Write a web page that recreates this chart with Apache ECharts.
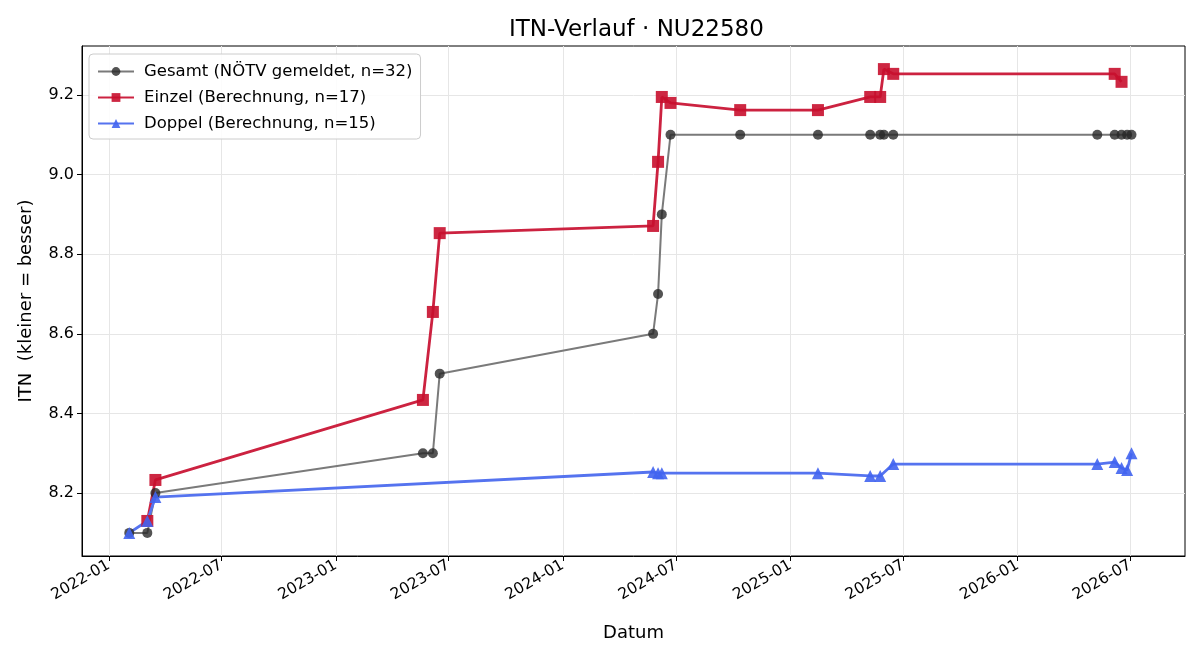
<!DOCTYPE html>
<html>
<head>
<meta charset="utf-8">
<script src="https://cdn.jsdelivr.net/npm/echarts@6/dist/echarts.min.js"></script>
<style>
  html, body { margin: 0; padding: 0; background: #fff; }
  #chart { width: 1200px; height: 660px; }
</style>
</head>
<body>
<div id="chart"></div>
<script>
// Gesamt (gemeldet)
const gesamtDates = [
  "2022-02-03", "2022-03-04", "2022-03-17",
  "2023-05-21", "2023-06-06", "2023-06-17",
  "2024-05-25", "2024-06-02", "2024-06-08", "2024-06-22", "2024-10-12",
  "2025-02-14", "2025-05-09", "2025-05-25", "2025-05-31", "2025-06-15",
  "2026-05-09", "2026-06-06", "2026-06-17", "2026-06-26", "2026-07-03"
];
const gesamtValues = [
  8.1, 8.1, 8.2,
  8.3, 8.3, 8.5,
  8.6, 8.7, 8.9, 9.1, 9.1,
  9.1, 9.1, 9.1, 9.1, 9.1,
  9.1, 9.1, 9.1, 9.1, 9.1
];

// Einzel (Berechnung)
const einzelDates = [
  "2022-03-04", "2022-03-17",
  "2023-05-21", "2023-06-06", "2023-06-17",
  "2024-05-25", "2024-06-02", "2024-06-08", "2024-06-22",
  "2024-10-12", "2025-02-14",
  "2025-05-09", "2025-05-25", "2025-05-31", "2025-06-15",
  "2026-06-06", "2026-06-17"
];
const einzelValues = [
  8.13, 8.233,
  8.434, 8.655, 8.853,
  8.871, 9.032, 9.195, 9.18,
  9.162, 9.162,
  9.195, 9.195, 9.265, 9.253,
  9.253, 9.233
];

// Doppel (Berechnung)
const doppelDates = [
  "2022-02-03", "2022-03-04", "2022-03-17",
  "2024-05-25", "2024-06-02", "2024-06-08",
  "2025-02-14",
  "2025-05-09", "2025-05-25", "2025-06-15",
  "2026-05-09", "2026-06-06", "2026-06-17", "2026-06-26", "2026-07-03"
];
const doppelValues = [
  8.1, 8.13, 8.19,
  8.253, 8.25, 8.25,
  8.25,
  8.243, 8.243, 8.273,
  8.273, 8.278, 8.263, 8.258, 8.30
];

const xTicks = [
  "2022-01-01", "2022-07-01", "2023-01-01", "2023-07-01", "2024-01-01",
  "2024-07-01", "2025-01-01", "2025-07-01", "2026-01-01", "2026-07-01"
];
const yTicks = [8.2, 8.4, 8.6, 8.8, 9.0, 9.2];

const ts = d => new Date(d + "T00:00:00Z").getTime();
const toPairs = (dates, values) => dates.map((d, i) => [ts(d), values[i]]);
const xTickValues = xTicks.map(ts);

const font = "DejaVu Sans";

const chart = echarts.init(document.getElementById("chart"));
chart.setOption({
  backgroundColor: "#fff",
  animation: false,
  textStyle: { fontFamily: font },
  title: {
    text: "ITN-Verlauf · NU22580",
    left: 504,
    top: 14,
    textStyle: { fontFamily: font, fontSize: 23, fontWeight: "normal", color: "#000" }
  },
  grid: {
    left: 82, right: 15, top: 46, bottom: 104,
    show: true, borderColor: "#000", borderWidth: 1
  },
  legend: {
    orient: "vertical",
    left: 89, top: 54,
    padding: [9, 8, 7, 8],
    itemGap: 9,
    itemWidth: 36,
    itemHeight: 11,
    backgroundColor: "rgba(255,255,255,0.85)",
    borderColor: "#cccccc",
    borderWidth: 1,
    borderRadius: 4,
    textStyle: { fontFamily: font, fontSize: 16.5, color: "#000", padding: [0, 0, 0, 5] }
  },
  xAxis: {
    type: "value",
    min: ts("2021-11-19"),
    max: ts("2026-09-27"),
    name: "Datum",
    nameLocation: "middle",
    nameGap: 68,
    nameTextStyle: { fontFamily: font, fontSize: 18, color: "#000" },
    axisLine: { show: true, onZero: false, lineStyle: { color: "#000", width: 1 } },
    axisTick: { show: true, inside: false, length: 5, lineStyle: { color: "#000" }, customValues: xTickValues },
    axisLabel: {
      customValues: xTickValues,
      rotate: 30,
      margin: 8,
      fontFamily: font,
      fontSize: 15.5,
      color: "#000",
      formatter: v => {
        const d = new Date(v);
        return d.getUTCFullYear() + "-" + String(d.getUTCMonth() + 1).padStart(2, "0");
      }
    },
    splitLine: { show: true, lineStyle: { color: "#e6e6e6", width: 1 } }
  },
  yAxis: {
    type: "value",
    min: 8.042,
    max: 9.323,
    name: "ITN  (kleiner = besser)",
    nameLocation: "middle",
    nameGap: 47,
    nameTextStyle: { fontFamily: font, fontSize: 18, color: "#000" },
    axisLine: { show: true, onZero: false, lineStyle: { color: "#000", width: 1 } },
    axisTick: { show: true, inside: false, length: 5, lineStyle: { color: "#000" }, customValues: yTicks },
    axisLabel: {
      customValues: yTicks,
      margin: 8,
      fontFamily: font,
      fontSize: 16,
      color: "#000",
      formatter: v => v.toFixed(1)
    },
    splitLine: { show: true, lineStyle: { color: "#e6e6e6", width: 1 } }
  },
  series: [
    {
      name: "Gesamt (NÖTV gemeldet, n=32)",
      type: "line",
      data: toPairs(gesamtDates, gesamtValues),
      symbol: "circle",
      symbolSize: 10,
      showAllSymbol: true,
      lineStyle: { color: "#7a7a7a", width: 2 },
      itemStyle: { color: "rgba(40,40,40,0.8)" }
    },
    {
      name: "Einzel (Berechnung, n=17)",
      type: "line",
      data: toPairs(einzelDates, einzelValues),
      symbol: "rect",
      symbolSize: 12,
      showAllSymbol: true,
      lineStyle: { color: "#cc2240", width: 2.8 },
      itemStyle: { color: "rgba(200,16,46,0.9)" }
    },
    {
      name: "Doppel (Berechnung, n=15)",
      type: "line",
      data: toPairs(doppelDates, doppelValues),
      symbol: "triangle",
      symbolSize: 12,
      showAllSymbol: true,
      lineStyle: { color: "#5573ef", width: 2.8 },
      itemStyle: { color: "rgba(65,100,240,0.9)" }
    }
  ]
});
</script>
</body>
</html>
